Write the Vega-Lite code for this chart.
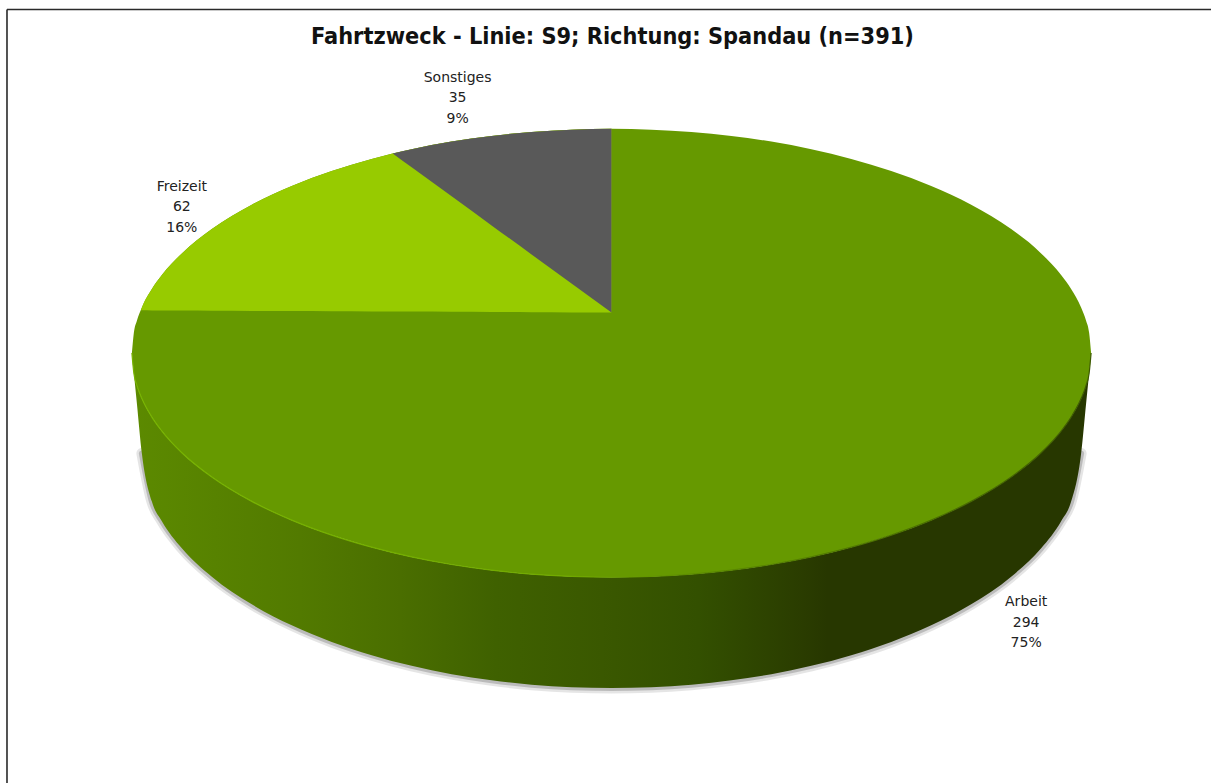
{
  "$schema": "https://vega.github.io/schema/vega-lite/v6.json",
  "width": 1212, "height": 784, "padding": 0,
  "autosize": {"type": "fit", "contains": "padding"},
  "background": "white",
  "view": {"stroke": null},
  "config": {"axis": {"disable": true}, "legend": {"disable": true}},
  "datasets": {
    "disc": [
      {"x":132,"upper":353.5,"lower":353.5,"base":353.5},
      {"x":134,"upper":333,"lower":374,"base":374},
      {"x":137,"upper":321.2,"lower":385.8,"base":404},
      {"x":142,"upper":307.9,"lower":399.1,"base":454},
      {"x":152,"upper":289.4,"lower":417.6,"base":502.2},
      {"x":162,"upper":275.4,"lower":431.6,"base":521.8},
      {"x":182,"upper":253.7,"lower":453.3,"base":548.9},
      {"x":212,"upper":229.4,"lower":477.6,"base":577.4},
      {"x":252,"upper":205,"lower":502,"base":605.1},
      {"x":292,"upper":186.2,"lower":520.8,"base":626.1},
      {"x":332,"upper":171.2,"lower":535.8,"base":642.8},
      {"x":372,"upper":159.1,"lower":547.9,"base":656},
      {"x":412,"upper":149.4,"lower":557.6,"base":666.7},
      {"x":452,"upper":141.8,"lower":565.2,"base":675},
      {"x":492,"upper":136.1,"lower":570.9,"base":681.2},
      {"x":532,"upper":132.1,"lower":574.9,"base":685.6},
      {"x":572,"upper":129.8,"lower":577.2,"base":688.2},
      {"x":612,"upper":129,"lower":578,"base":689},
      {"x":652,"upper":129.8,"lower":577.2,"base":688.2},
      {"x":692,"upper":132.1,"lower":574.9,"base":685.6},
      {"x":732,"upper":136.1,"lower":570.9,"base":681.2},
      {"x":772,"upper":141.8,"lower":565.2,"base":675},
      {"x":812,"upper":149.4,"lower":557.6,"base":666.7},
      {"x":852,"upper":159.1,"lower":547.9,"base":656},
      {"x":892,"upper":171.2,"lower":535.8,"base":642.8},
      {"x":932,"upper":186.2,"lower":520.8,"base":626.1},
      {"x":972,"upper":205,"lower":502,"base":605.1},
      {"x":1012,"upper":229.4,"lower":477.6,"base":577.4},
      {"x":1042,"upper":253.7,"lower":453.3,"base":548.9},
      {"x":1062,"upper":275.4,"lower":431.6,"base":521.8},
      {"x":1072,"upper":289.4,"lower":417.6,"base":502.2},
      {"x":1082,"upper":307.9,"lower":399.1,"base":454},
      {"x":1087,"upper":321.2,"lower":385.8,"base":404},
      {"x":1090,"upper":333,"lower":374,"base":374},
      {"x":1092,"upper":353.5,"lower":353.5,"base":353.5}
    ],
    "freizeit": [
      {"x":141,"upper":310.7,"lower":310.7},
      {"x":142,"upper":307.9,"lower":310.7},
      {"x":152,"upper":289.4,"lower":310.8},
      {"x":162,"upper":275.4,"lower":310.9},
      {"x":182,"upper":253.7,"lower":310.9},
      {"x":212,"upper":229.4,"lower":311.1},
      {"x":252,"upper":205,"lower":311.3},
      {"x":292,"upper":186.2,"lower":311.5},
      {"x":332,"upper":171.2,"lower":311.6},
      {"x":372,"upper":159.1,"lower":311.8},
      {"x":412,"upper":149.4,"lower":312},
      {"x":452,"upper":141.8,"lower":312.2},
      {"x":492,"upper":136.1,"lower":312.4},
      {"x":532,"upper":132.1,"lower":312.6},
      {"x":572,"upper":129.8,"lower":312.8},
      {"x":612,"upper":129,"lower":313}
    ],
    "sonstiges": [
      {"x":393,"upper":153.6,"lower":153.6},
      {"x":412,"upper":149.4,"lower":167.4},
      {"x":452,"upper":141.8,"lower":196.6},
      {"x":492,"upper":136.1,"lower":225.7},
      {"x":532,"upper":132.1,"lower":254.8},
      {"x":572,"upper":129.8,"lower":283.9},
      {"x":612,"upper":129,"lower":313}
    ],
    "labels": [
      {"slice":"Arbeit","count":294,"share":"75%","label":"Arbeit\n294\n75%","x":1027,"y":603},
      {"slice":"Freizeit","count":62,"share":"16%","label":"Freizeit\n62\n16%","x":182,"y":187},
      {"slice":"Sonstiges","count":35,"share":"9%","label":"Sonstiges\n35\n9%","x":458,"y":78}
    ],
    "heading": [{"text":"Fahrtzweck - Linie: S9; Richtung: Spandau (n=391)","x":613,"y":37}],
    "frameV": [{"x":7,"y":9.5,"y2":784}],
    "frameH": [{"x":7,"x2":1212,"y":9.5}]
  },
  "layer": [
    {"data":{"name":"frameV"},"mark":{"type":"rule","stroke":"#2a2a2a","strokeWidth":1.6},
     "encoding":{"x":{"field":"x","type":"quantitative","scale":{"domain":[0,1212],"nice":false,"zero":false}},
       "y":{"field":"y","type":"quantitative","scale":{"domain":[784,0],"nice":false,"zero":false}},"y2":{"field":"y2"}}},
    {"data":{"name":"frameH"},"mark":{"type":"rule","stroke":"#2a2a2a","strokeWidth":1.6},
     "encoding":{"x":{"field":"x","type":"quantitative"},"x2":{"field":"x2"},"y":{"field":"y","type":"quantitative"}}},
    {"data":{"name":"disc"},"transform":[{"filter":"datum.x >= 142 && datum.x <= 1082"}],
     "mark":{"type":"line","interpolate":"monotone","stroke":"#000000","strokeCap":"round","strokeOpacity":0.1,"strokeWidth":11},
     "encoding":{"x":{"field":"x","type":"quantitative"},"y":{"field":"base","type":"quantitative"}}},
    {"data":{"name":"disc"},"transform":[{"filter":"datum.x >= 142 && datum.x <= 1082"}],
     "mark":{"type":"line","interpolate":"monotone","stroke":"#000000","strokeCap":"round","strokeOpacity":0.18,"strokeWidth":6},
     "encoding":{"x":{"field":"x","type":"quantitative"},"y":{"field":"base","type":"quantitative"}}},
    {"data":{"name":"disc"},"mark":{"type":"area","interpolate":"monotone",
       "fill":{"gradient":"linear","x1":0,"y1":0,"x2":1,"y2":0,"stops":[
         {"offset":0,"color":"#5c8a00"},{"offset":0.175,"color":"#527a00"},{"offset":0.28,"color":"#4a6e00"},
         {"offset":0.38,"color":"#3f6100"},{"offset":0.49,"color":"#3a5800"},{"offset":0.59,"color":"#335000"},
         {"offset":0.70,"color":"#2a3c00"},{"offset":0.725,"color":"#273700"},{"offset":1,"color":"#273700"}]}},
     "encoding":{"x":{"field":"x","type":"quantitative"},"y":{"field":"lower","type":"quantitative"},"y2":{"field":"base"}}},
    {"data":{"name":"disc"},"mark":{"type":"area","interpolate":"monotone","fill":"#669900"},
     "encoding":{"x":{"field":"x","type":"quantitative"},"y":{"field":"upper","type":"quantitative"},"y2":{"field":"lower"}}},
    {"data":{"name":"disc"},"mark":{"type":"line","interpolate":"monotone","strokeWidth":1.2,
       "stroke":{"gradient":"linear","x1":0,"y1":0,"x2":1,"y2":0,"stops":[
         {"offset":0,"color":"#77b300"},{"offset":0.45,"color":"#72aa00"},{"offset":0.6,"color":"#5a8800"},{"offset":1,"color":"#3d5a00"}]}},
     "encoding":{"x":{"field":"x","type":"quantitative"},"y":{"field":"lower","type":"quantitative"}}},
    {"data":{"name":"freizeit"},"mark":{"type":"area","interpolate":"monotone","fill":"#97cb00"},
     "encoding":{"x":{"field":"x","type":"quantitative"},"y":{"field":"upper","type":"quantitative"},"y2":{"field":"lower"}}},
    {"data":{"name":"sonstiges"},"mark":{"type":"area","interpolate":"monotone","fill":"#595959"},
     "encoding":{"x":{"field":"x","type":"quantitative"},"y":{"field":"upper","type":"quantitative"},"y2":{"field":"lower"}}},
    {"data":{"name":"labels"},"mark":{"type":"text","font":"DejaVu Sans","fontSize":14,"fill":"#222222","align":"center","baseline":"middle","lineBreak":"\n","lineHeight":20.5},
     "encoding":{"x":{"field":"x","type":"quantitative"},"y":{"field":"y","type":"quantitative"},"text":{"field":"label"}}},
    {"data":{"name":"heading"},"mark":{"type":"text","font":"DejaVu Sans Condensed","fontWeight":"bold","fontSize":23.3,"fill":"#111111","align":"center","baseline":"middle"},
     "encoding":{"x":{"field":"x","type":"quantitative"},"y":{"field":"y","type":"quantitative"},"text":{"field":"text"}}}
  ]
}
